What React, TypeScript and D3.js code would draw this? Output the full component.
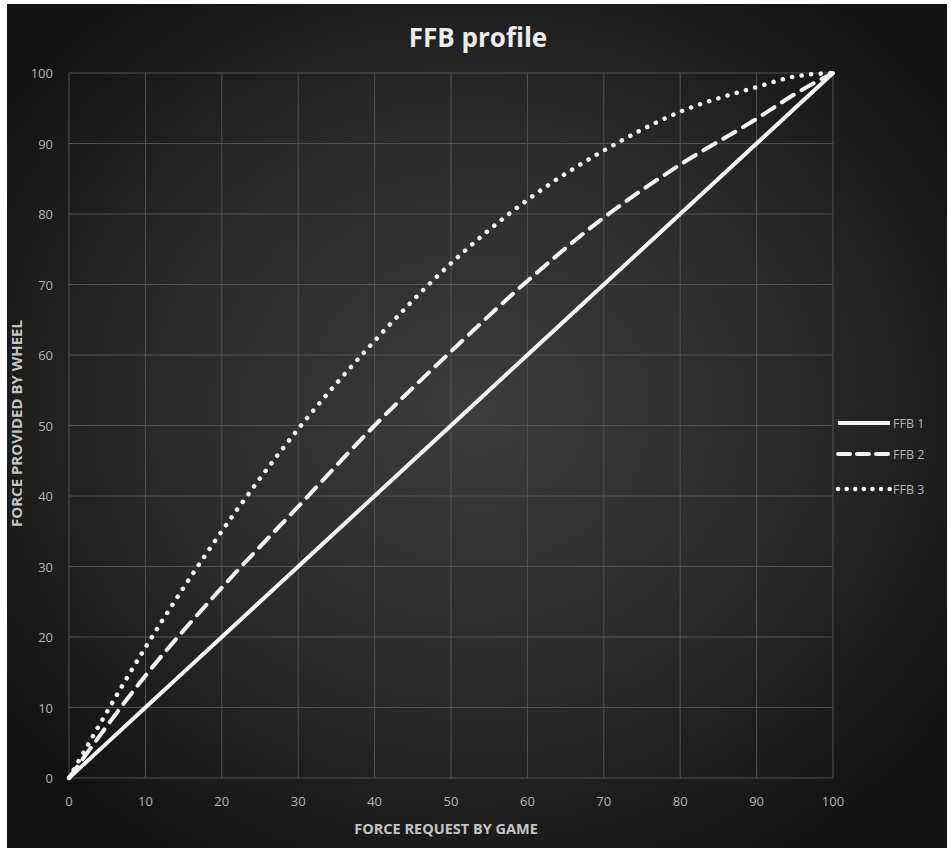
import { useEffect, useRef } from 'react'
import * as d3 from 'd3'

const xValues = [0, 10, 20, 30, 40, 50, 60, 70, 80, 90, 95, 100]
const ffb1 = [0, 10, 20, 30, 40, 50, 60, 70, 80, 90, 95, 100]
const ffb2 = [0, 14.5, 27, 38.5, 50, 60.5, 70.5, 79.5, 87, 93.5, 97, 100]
const ffb3 = [0, 18.5, 35, 49.5, 62, 73, 82, 89, 94.5, 98, 99.5, 100]
const seriesNames = ['FFB 1', 'FFB 2', 'FFB 3']
const xTicks = [0, 10, 20, 30, 40, 50, 60, 70, 80, 90, 100]
const yTicks = [0, 10, 20, 30, 40, 50, 60, 70, 80, 90, 100]

const W = 940
const H = 844

export default function App() {
  const svgRef = useRef<SVGSVGElement>(null)

  useEffect(() => {
    if (!svgRef.current) return
    const svg = d3.select(svgRef.current)
    svg.selectAll('*').remove()

    const margin = { top: 69, right: 114, bottom: 70, left: 62 }
    const innerWidth = W - margin.left - margin.right
    const innerHeight = H - margin.top - margin.bottom

    const defs = svg.append('defs')
    const grad = defs
      .append('radialGradient')
      .attr('id', 'bg')
      .attr('cx', '50%')
      .attr('cy', '48%')
      .attr('r', '62%')
    grad.append('stop').attr('offset', '0%').attr('stop-color', '#3c3c3d')
    grad.append('stop').attr('offset', '55%').attr('stop-color', '#2a2a2a')
    grad.append('stop').attr('offset', '100%').attr('stop-color', '#131212')

    svg.append('rect').attr('width', W).attr('height', H).attr('fill', 'url(#bg)')

    const x = d3.scaleLinear().domain([0, 100]).range([0, innerWidth])
    const y = d3.scaleLinear().domain([0, 100]).range([innerHeight, 0])

    const g = svg.append('g').attr('transform', `translate(${margin.left},${margin.top})`)

    // grid
    g.append('g')
      .selectAll('line')
      .data(xTicks)
      .join('line')
      .attr('x1', (d) => x(d))
      .attr('x2', (d) => x(d))
      .attr('y1', 0)
      .attr('y2', innerHeight)
      .attr('stroke', '#525252')
      .attr('stroke-width', 1)
    g.append('g')
      .selectAll('line')
      .data(yTicks)
      .join('line')
      .attr('x1', 0)
      .attr('x2', innerWidth)
      .attr('y1', (d) => y(d))
      .attr('y2', (d) => y(d))
      .attr('stroke', '#525252')
      .attr('stroke-width', 1)

    const tickFont = "'Open Sans', sans-serif"

    g.append('g')
      .selectAll('text')
      .data(xTicks)
      .join('text')
      .attr('x', (d) => x(d))
      .attr('y', innerHeight + 28)
      .attr('text-anchor', 'middle')
      .style('font-family', tickFont)
      .style('font-size', '13px')
      .style('fill', '#b4b4b4')
      .text((d) => d)

    g.append('g')
      .selectAll('text')
      .data(yTicks)
      .join('text')
      .attr('x', -16)
      .attr('y', (d) => y(d) + 5)
      .attr('text-anchor', 'end')
      .style('font-family', tickFont)
      .style('font-size', '13px')
      .style('fill', '#b4b4b4')
      .text((d) => d)

    // axis titles
    g.append('text')
      .attr('x', innerWidth / 2 - 5)
      .attr('y', innerHeight + 56)
      .attr('text-anchor', 'middle')
      .style('font-family', "'Open Sans', sans-serif")
      .style('font-size', '14.5px')
      .style('font-weight', '700')
      .style('fill', '#c4c4c4')
      .text('FORCE REQUEST BY GAME')

    g.append('text')
      .attr('transform', 'rotate(-90)')
      .attr('x', -innerHeight / 2 + 2)
      .attr('y', -47)
      .attr('text-anchor', 'middle')
      .style('font-family', "'Open Sans', sans-serif")
      .style('font-size', '15px')
      .style('font-weight', '700')
      .style('fill', '#c4c4c4')
      .text('FORCE PROVIDED BY WHEEL')

    // title
    svg
      .append('text')
      .attr('x', 471)
      .attr('y', 43)
      .attr('text-anchor', 'middle')
      .style('font-family', "'Open Sans', sans-serif")
      .style('font-size', '26px')
      .style('font-weight', '700')
      .style('fill', '#ececec')
      .text('FFB profile')

    const dashes = ['none', '14 9', '0.1 9.5']
    const allSeries = [ffb1, ffb2, ffb3]

    const line = d3
      .line<number>()
      .x((_, i) => x(xValues[i]))
      .y((d) => y(d))
      .curve(d3.curveMonotoneX)

    allSeries.forEach((vals, i) => {
      g.append('path')
        .datum(vals)
        .attr('fill', 'none')
        .attr('stroke', '#f4f4f4')
        .attr('stroke-width', i === 2 ? 4.5 : 4)
        .attr('stroke-linecap', i === 0 ? 'butt' : 'round')
        .attr('stroke-dasharray', dashes[i])
        .attr('d', line)
    })

    // legend
    const legend = svg.append('g').attr('transform', `translate(830, 0)`)
    const legendY = [419, 450, 485]
    seriesNames.forEach((name, i) => {
      legend
        .append('line')
        .attr('x1', 1)
        .attr('x2', 53)
        .attr('y1', legendY[i])
        .attr('y2', legendY[i])
        .attr('stroke', '#f4f4f4')
        .attr('stroke-width', i === 2 ? 4.5 : 4)
        .attr('stroke-linecap', i === 0 ? 'butt' : 'round')
        .attr('stroke-dasharray', i === 0 ? 'none' : i === 1 ? '12 7' : '0.1 8.5')
      legend
        .append('text')
        .attr('x', 56)
        .attr('y', legendY[i] + 5)
        .style('font-family', "'Open Sans', sans-serif")
        .style('font-size', '12.5px')
        .style('fill', '#b4b4b4')
        .text(name)
    })
  }, [])

  return (
    <svg
      ref={svgRef}
      width={W}
      height={H}
      style={{ position: 'absolute', left: 7, top: 4, display: 'block' }}
    />
  )
}
